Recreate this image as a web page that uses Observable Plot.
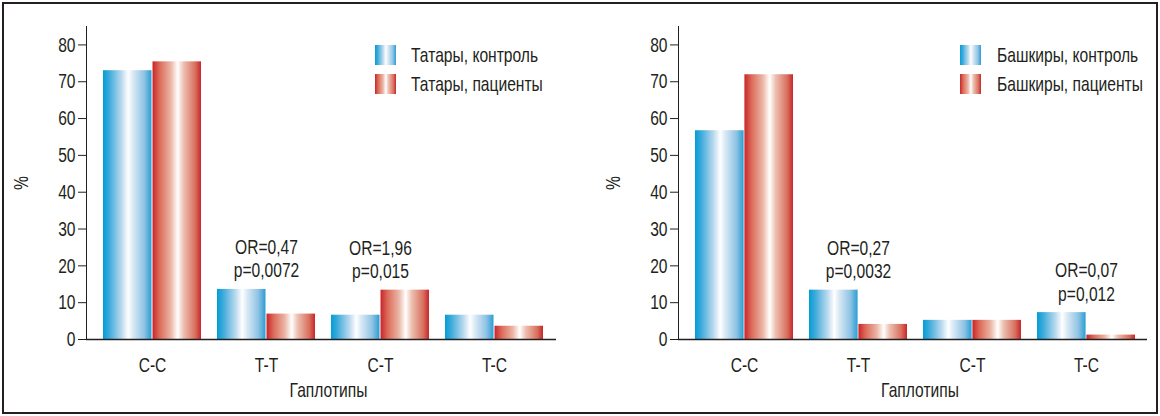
<!DOCTYPE html>
<html><head><meta charset="utf-8">
<script src="https://cdn.jsdelivr.net/npm/d3@7"></script>
<script src="https://cdn.jsdelivr.net/npm/@observablehq/plot@0.6"></script>
<style>
body{margin:0;background:#fff;width:1160px;height:416px;overflow:hidden;position:relative;font-family:"Liberation Sans",Arial,sans-serif;color:#231f20}
#frame{position:absolute;left:2px;top:2px;width:1156px;height:412px;border:2px solid #231f20;box-sizing:border-box}
.panel{position:absolute;top:0}
.legend{position:absolute;top:40.5px;font-size:21px}
.item{display:flex;align-items:center;height:29px;white-space:nowrap}
.item span{display:inline-block;transform:scaleX(0.743);transform-origin:0 50%}
.sw{width:21px;height:20px;margin-right:15px}
.swb{background:linear-gradient(to right,#009ed6 0%,#3aa9da 12%,#b9d9ee 38%,#ffffff 52%,#d9e9f5 62%,#8fc3e4 85%,#2b9dd2 100%)}
.swr{background:linear-gradient(to right,#c9252b 0%,#dc6c5a 15%,#ebb6a6 38%,#ffffff 52%,#edc0b1 64%,#d8705f 88%,#c9252b 100%)}
</style></head><body>
<svg width="0" height="0" style="position:absolute">
  <defs>
    <linearGradient id="gBlue" x1="0" x2="1" y1="0" y2="0">
      <stop offset="0" stop-color="#009ed6"/><stop offset="0.12" stop-color="#3aa9da"/>
      <stop offset="0.38" stop-color="#b9d9ee"/><stop offset="0.52" stop-color="#ffffff"/>
      <stop offset="0.62" stop-color="#d9e9f5"/><stop offset="0.85" stop-color="#8fc3e4"/>
      <stop offset="1" stop-color="#2b9dd2"/>
    </linearGradient>
    <linearGradient id="gRed" x1="0" x2="1" y1="0" y2="0">
      <stop offset="0" stop-color="#c9252b"/><stop offset="0.15" stop-color="#dc6c5a"/>
      <stop offset="0.38" stop-color="#ebb6a6"/><stop offset="0.52" stop-color="#ffffff"/>
      <stop offset="0.64" stop-color="#edc0b1"/><stop offset="0.88" stop-color="#d8705f"/>
      <stop offset="1" stop-color="#c9252b"/>
    </linearGradient>
  </defs>
</svg>
<div id="frame"></div>
<div id="left" class="panel" style="left:0"></div>
<div id="right" class="panel" style="left:580px"></div>
<div class="legend" style="left:375px">
  <div class="item"><div class="sw swb"></div><span>Татары, контроль</span></div>
  <div class="item"><div class="sw swr"></div><span>Татары, пациенты</span></div>
</div>
<div class="legend" style="left:960px">
  <div class="item"><div class="sw swb" style="margin-right:16px"></div><span>Башкиры, контроль</span></div>
  <div class="item"><div class="sw swr" style="margin-right:16px"></div><span>Башкиры, пациенты</span></div>
</div>
<script>
const haplotypes = ["C-C", "T-T", "C-T", "T-C"];
const tatControl = [73.0, 13.6, 6.6, 6.6];
const tatPatients = [75.4, 6.9, 13.4, 3.6];
const bashControl = [56.7, 13.4, 5.2, 7.3];
const bashPatients = [71.9, 4.1, 5.2, 1.2];
const tatNoteHaps = ["T-T", "C-T"];
const tatNoteTexts = ["OR=0,47\np=0,0072", "OR=1,96\np=0,015"];
const bashNoteHaps = ["T-T", "T-C"];
const bashNoteTexts = ["OR=0,27\np=0,0032", "OR=0,07\np=0,012"];
const yTicks = [0, 10, 20, 30, 40, 50, 60, 70, 80];
const yLabel = "%";
const xLabel = "Гаплотипы";

const INK = "#231f20";
const FONT = '"Liberation Sans",Arial,sans-serif';
const NARROW = 0.743;
const W = 580, H = 416;
const pInner = 0.139, pOuter = 0.113;

function condense(svg) {
  svg.querySelectorAll("text").forEach(t => {
    const ax = +(t.getAttribute("x") || 0);
    const tr = t.getAttribute("transform") || "";
    t.setAttribute("transform", `${tr} translate(${ax},0) scale(${NARROW},1) translate(${-ax},0)`);
  });
  return svg;
}

function panel(control, patients, noteHaps, noteTexts, mL, mR) {
  const rows = haplotypes.map((h, i) => ({hap: h, c: control[i], p: patients[i]}));
  const notes = noteHaps.map((h, i) => {
    const r = rows.find(d => d.hap === h);
    return {hap: h, text: noteTexts[i], y: Math.max(r.c, r.p)};
  });
  const rangeW = W - mL - mR;
  const step = rangeW / (haplotypes.length - pInner + 2 * pOuter);
  const half = step * (1 - pInner) / 2;
  return condense(Plot.plot({
    width: W, height: H,
    marginLeft: mL, marginRight: mR, marginTop: 26, marginBottom: 77,
    style: {fontFamily: FONT, fontSize: "21px", color: INK, background: "transparent", overflow: "visible"},
    x: {domain: haplotypes, paddingInner: pInner, paddingOuter: pOuter, align: 0.58, label: null, tickSize: 0, tickPadding: 18},
    y: {domain: [0, 85], ticks: yTicks, tickSize: 8, tickPadding: 3, line: true, label: yLabel, labelArrow: false, labelAnchor: "center", labelOffset: 73},
    marks: [
      Plot.barY(rows, {x: "hap", y: "c", fill: "url(#gBlue)", insetRight: half, insetLeft: 0}),
      Plot.barY(rows, {x: "hap", y: "p", fill: "url(#gRed)", insetLeft: half, insetRight: 0}),
      Plot.ruleY([0], {stroke: INK, strokeWidth: 1.5}),
      Plot.text(notes, {x: "hap", y: "y", text: "text", dy: -12, lineAnchor: "bottom", lineHeight: 1.12, fill: INK}),
      Plot.text([xLabel], {frameAnchor: "bottom", lineAnchor: "middle", dy: 51, dx: 7, fill: INK})
    ]
  }));
}

document.getElementById("left").appendChild(panel(tatControl, tatPatients, tatNoteHaps, tatNoteTexts, 86, 24));
document.getElementById("right").appendChild(panel(bashControl, bashPatients, bashNoteHaps, bashNoteTexts, 98, 13));
</script>
</body></html>
